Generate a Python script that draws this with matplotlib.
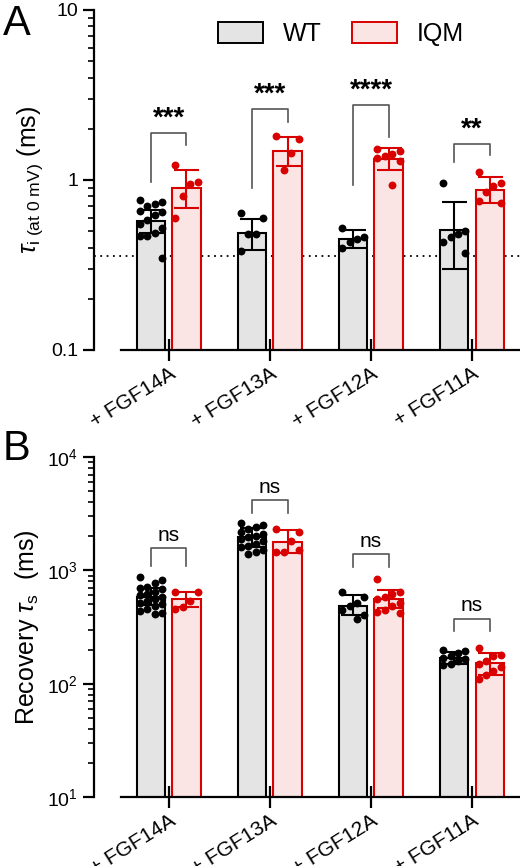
import numpy as np
import matplotlib.pyplot as plt
from matplotlib.patches import Patch

plt.rcParams['font.family'] = ['Liberation Sans', 'DejaVu Sans']
plt.rcParams['mathtext.fontset'] = 'custom'
plt.rcParams['mathtext.rm'] = 'Liberation Sans'
plt.rcParams['mathtext.it'] = 'Liberation Sans:italic'

groups = ['+ FGF14A', '+ FGF13A', '+ FGF12A', '+ FGF11A']
RED = '#d90000'

# ---- panel A: tau_i at 0 mV (ms)
a_wt_mean = [0.575, 0.486, 0.45, 0.51]
a_wt_lo = [0.49, 0.39, 0.40, 0.30]
a_wt_hi = [0.67, 0.59, 0.51, 0.74]
a_wt_pts = [[0.76, 0.74, 0.72, 0.70, 0.66, 0.65, 0.62, 0.58, 0.55, 0.52, 0.49, 0.47, 0.47, 0.35],
            [0.64, 0.60, 0.48, 0.48, 0.38],
            [0.52, 0.46, 0.45, 0.43, 0.40],
            [0.96, 0.50, 0.48, 0.46, 0.43, 0.37]]
a_iq_mean = [0.90, 1.49, 1.33, 0.87]
a_iq_lo = [0.68, 1.21, 1.15, 0.73]
a_iq_hi = [1.15, 1.80, 1.55, 1.04]
a_iq_pts = [[1.22, 0.97, 0.95, 0.80, 0.60],
            [1.82, 1.75, 1.45, 1.15],
            [1.52, 1.48, 1.42, 1.38, 1.35, 1.30, 0.93],
            [1.12, 0.96, 0.92, 0.85, 0.75, 0.73]]
a_brk = [(0.97, 1.89, 1.6), (0.90, 2.63, 2.2), (0.94, 2.75, 1.8), (1.27, 1.63, 1.4)]
a_stars = ['***', '***', '****', '**']
a_ref = 0.355

# ---- panel B: recovery tau_s (ms)
b_wt_mean = [577, 1960, 486, 168]
b_wt_lo = [490, 1600, 400, 150]
b_wt_hi = [700, 2350, 600, 190]
b_wt_pts = [[877, 820, 780, 720, 700, 680, 650, 620, 600, 580, 560, 540, 520, 500, 480, 460, 440, 420, 410],
            [2600, 2500, 2400, 2300, 2200, 2100, 2000, 1950, 1900, 1800, 1700, 1650, 1600, 1500, 1450, 1400],
            [640, 580, 520, 480, 450, 400, 370],
            [200, 195, 185, 175, 170, 165, 160, 150, 145]]
b_iq_mean = [560, 1790, 555, 152]
b_iq_lo = [475, 1410, 465, 119]
b_iq_hi = [650, 2260, 670, 186]
b_iq_pts = [[650, 640, 540, 470, 460],
            [2300, 2200, 1800, 1450, 1450, 1500],
            [840, 650, 620, 580, 560, 520, 480, 450, 430, 420],
            [205, 180, 175, 160, 150, 140, 130, 120, 110]]
b_brk = [(1090, 1560, 1090), (3180, 4140, 3180), (1060, 1380, 1060), (290, 375, 290)]
b_stars = ['ns', 'ns', 'ns', 'ns']

OFF = 0.175
W = 0.28


def spread(n, width=0.22):
    # deterministic side-by-side placement of scatter points
    if n == 1:
        return np.zeros(1)
    k = min(n, 4)
    base = np.linspace(-width / 2, width / 2, k)
    return np.array([base[(i * 3) % k] for i in range(n)])


def draw_panel(ax, wt_m, wt_lo, wt_hi, wt_p, iq_m, iq_lo, iq_hi, iq_p, brk, txt, ylim):
    x = np.arange(len(groups))
    ax.bar(x - OFF, wt_m, W, color='#e4e4e4', edgecolor='black', lw=1.5, zorder=2)
    ax.bar(x + OFF, iq_m, W, color='#fae4e4', edgecolor=RED, lw=1.5, zorder=2)
    for i in range(len(groups)):
        for xc, p, m, lo, hi, c in [(x[i] - OFF, wt_p[i], wt_m[i], wt_lo[i], wt_hi[i], 'black'),
                                    (x[i] + OFF, iq_p[i], iq_m[i], iq_lo[i], iq_hi[i], RED)]:
            ax.scatter(xc + spread(len(p)), p, s=32, color=c, zorder=4, lw=0)
            ax.errorbar(xc, m, yerr=[[m - lo], [hi - m]], color=c, capsize=9, lw=1.5,
                        capthick=1.5, zorder=5)
        l, t, r = brk[i]
        ax.plot([x[i] - OFF, x[i] - OFF, x[i] + OFF, x[i] + OFF], [l, t, t, r],
                color='#555555', lw=1.2, zorder=3)
        if txt[i] == 'ns':
            ax.text(x[i], t * 1.08, txt[i], ha='center', va='bottom', fontsize=15)
        else:
            ax.text(x[i], t * 1.02, txt[i], ha='center', va='bottom', fontsize=20,
                    fontweight='bold')
    ax.set_yscale('log')
    ax.set_ylim(*ylim)
    ax.set_xlim(-0.74, 3.475)
    ax.spines['top'].set_visible(False)
    ax.spines['right'].set_visible(False)
    ax.spines['bottom'].set_bounds(-0.475, 3.475)
    ax.spines['left'].set_linewidth(1.6)
    ax.spines['bottom'].set_linewidth(1.6)
    ax.set_xticks(x)
    ax.set_xticklabels(groups, rotation=32, ha='right', rotation_mode='anchor', fontsize=15)
    ax.tick_params(axis='x', direction='inout', length=16, width=1.6, pad=2)
    ax.tick_params(axis='y', which='major', length=8, width=1.6, labelsize=14)
    ax.tick_params(axis='y', which='minor', length=4, width=1.2)


fig = plt.figure(figsize=(5.2, 8.66), dpi=100)
axA = fig.add_axes([94 / 520, 1 - 350 / 866, 1 - 94 / 520, 340 / 866])
axB = fig.add_axes([94 / 520, 1 - 797 / 866, 1 - 94 / 520, 340 / 866])

draw_panel(axA, a_wt_mean, a_wt_lo, a_wt_hi, a_wt_pts, a_iq_mean, a_iq_lo, a_iq_hi, a_iq_pts,
           a_brk, a_stars, (0.1, 10))
axA.axhline(a_ref, color='black', ls=(0, (1, 2.5)), lw=1.3, zorder=1)
axA.set_yticks([0.1, 1, 10])
axA.set_yticklabels(['0.1', '1', '10'])
axA.set_ylabel(r'$\tau_{\rm i\ (at\ 0\ mV)}$ (ms)', fontsize=18)

draw_panel(axB, b_wt_mean, b_wt_lo, b_wt_hi, b_wt_pts, b_iq_mean, b_iq_lo, b_iq_hi, b_iq_pts,
           b_brk, b_stars, (10, 10000))
axB.set_ylabel(r'Recovery $\tau_{\rm s}$  (ms)', fontsize=18)

handles = [Patch(facecolor='#e4e4e4', edgecolor='black', lw=1.4),
           Patch(facecolor='#fae4e4', edgecolor=RED, lw=1.4)]
leg = axA.legend(handles, ['WT', 'IQM'], loc='upper center', bbox_to_anchor=(0.58, 1.03), ncol=2,
                 frameon=False, fontsize=18, handlelength=1.8, handleheight=0.9, columnspacing=1.2)
fig.text(0.005, 0.995, 'A', fontsize=30, va='top')
fig.text(0.005, 0.505, 'B', fontsize=30, va='top')

fig.savefig('out.png', dpi=100)
